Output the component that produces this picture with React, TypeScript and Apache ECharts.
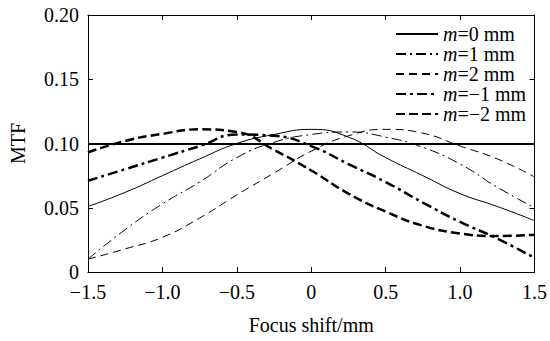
import React, { useEffect, useRef } from "react";
import * as echarts from "echarts";

const focusShift = [-1.5, -1.25, -1.0, -0.75, -0.5, -0.25, 0, 0.25, 0.5, 0.75, 1.0, 1.25, 1.5];
const seriesNames = ["m=0 mm", "m=1 mm", "m=2 mm", "m=−1 mm", "m=−2 mm"];
const mtfM0 = [0.051, 0.062, 0.075, 0.088, 0.1, 0.107, 0.111, 0.105, 0.089, 0.075, 0.061, 0.051, 0.04];
const mtfM1 = [0.01, 0.033, 0.053, 0.07, 0.089, 0.101, 0.107, 0.109, 0.105, 0.097, 0.084, 0.066, 0.05];
const mtfM2 = [0.01, 0.018, 0.027, 0.042, 0.06, 0.077, 0.094, 0.106, 0.111, 0.108, 0.098, 0.088, 0.074];
const mtfMm1 = [0.071, 0.08, 0.089, 0.098, 0.107, 0.106, 0.098, 0.084, 0.07, 0.054, 0.039, 0.026, 0.011];
const mtfMm2 = [0.093, 0.102, 0.1075, 0.111, 0.109, 0.095, 0.079, 0.061, 0.047, 0.036, 0.03, 0.028, 0.029];
const threshold = 0.1;

const FONT = "'Liberation Serif', 'Times New Roman', serif";

export default function App() {
  const ref = useRef<HTMLDivElement>(null);
  useEffect(() => {
    if (!ref.current) return;
    const chart = echarts.init(ref.current, undefined, { renderer: "svg" });
    const values = [mtfM0, mtfM1, mtfM2, mtfMm1, mtfMm2];
    const styles = [
      { width: 1, type: "solid" },
      { width: 1, type: [10, 4, 2, 4] },
      { width: 1, type: [8, 5] },
      { width: 2.5, type: [10, 4, 3, 4] },
      { width: 2.5, type: [9, 4] },
    ];
    const series: any[] = values.map((vals, i) => ({
      name: seriesNames[i],
      type: "line",
      smooth: true,
      symbol: "none",
      showSymbol: false,
      data: focusShift.map((x, j) => [x, vals[j]]),
      lineStyle: { color: "#000", width: styles[i].width, type: styles[i].type as any },
      itemStyle: { color: "#000" },
      z: 3,
    }));
    series[0].markLine = {
      silent: true,
      symbol: "none",
      label: { show: false },
      lineStyle: { color: "#000", width: 2, type: "solid" },
      data: [{ yAxis: threshold }],
    };
    const fmtX = (v: number) => (v === 0 ? "0" : (v < 0 ? "−" : "") + Math.abs(v).toFixed(1));
    const fmtY = (v: number) => (v === 0 ? "0" : v.toFixed(2));
    const frameLine = { show: true, onZero: false, lineStyle: { color: "#000", width: 1 } };
    const tick = { show: true, inside: true, length: 5, lineStyle: { color: "#000" } };
    chart.setOption({
      animation: false,
      backgroundColor: "#fff",
      grid: { left: 87, right: 13, top: 15, bottom: 69 },
      legend: {
        orient: "vertical",
        left: 390,
        top: 19,
        itemWidth: 42,
        itemHeight: 14,
        itemGap: 0,
        data: seriesNames,
        itemStyle: { opacity: 0 },
        formatter: (name: string) => `{it|m}{n|${name.slice(1)}}`,
        textStyle: {
          color: "#000",
          fontFamily: FONT,
          fontSize: 20,
          lineHeight: 20,
          rich: {
            it: { fontStyle: "italic", fontFamily: FONT, fontSize: 20, lineHeight: 20, color: "#000" },
            n: { fontFamily: FONT, fontSize: 20, lineHeight: 20, color: "#000" },
          },
        },
      },
      xAxis: [
        {
          type: "value",
          min: -1.5,
          max: 1.5,
          interval: 0.5,
          name: "Focus shift/mm",
          nameLocation: "middle",
          nameGap: 43,
          nameTextStyle: { fontFamily: FONT, fontSize: 20, color: "#000" },
          axisLine: frameLine,
          axisTick: tick,
          axisLabel: { formatter: fmtX, fontFamily: FONT, fontSize: 20, color: "#000", margin: 10 },
          splitLine: { show: false },
        },
        {
          type: "value",
          position: "top",
          min: -1.5,
          max: 1.5,
          interval: 0.5,
          axisLine: frameLine,
          axisTick: tick,
          axisLabel: { show: false },
          splitLine: { show: false },
        },
      ],
      yAxis: [
        {
          type: "value",
          min: 0,
          max: 0.2,
          interval: 0.05,
          name: "MTF",
          nameLocation: "middle",
          nameGap: 60,
          nameTextStyle: { fontFamily: FONT, fontSize: 20, color: "#000" },
          axisLine: frameLine,
          axisTick: tick,
          axisLabel: { formatter: fmtY, fontFamily: FONT, fontSize: 20, color: "#000", margin: 9 },
          splitLine: { show: false },
        },
        {
          type: "value",
          position: "right",
          min: 0,
          max: 0.2,
          interval: 0.05,
          axisLine: frameLine,
          axisTick: tick,
          axisLabel: { show: false },
          splitLine: { show: false },
        },
      ],
      series,
    });
    return () => chart.dispose();
  }, []);
  return <div ref={ref} style={{ position: "fixed", left: 0, top: 0, width: 550, height: 341 }} />;
}
